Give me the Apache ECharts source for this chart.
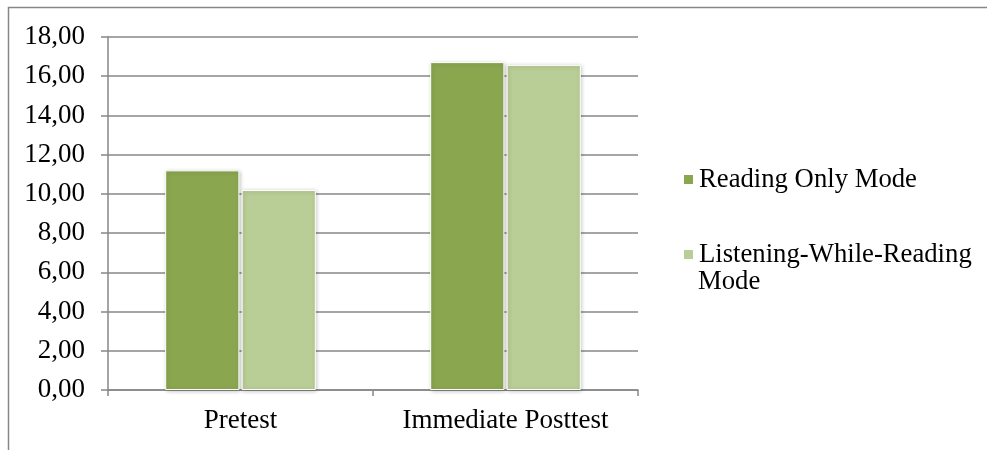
<!DOCTYPE html>
<html>
<head>
<meta charset="utf-8">
<script src="https://cdn.jsdelivr.net/npm/echarts@6/dist/echarts.min.js"></script>
<style>
  html, body { margin: 0; padding: 0; background: #fff; }
  #chart { width: 987px; height: 450px; }
</style>
</head>
<body>
<div id="chart"></div>
<script>
// Mean scores by test and reading mode
const categories = ['Pretest', 'Immediate Posttest'];
const seriesNames = ['Reading Only Mode', 'Listening-While-Reading Mode'];
const readingOnly = [11.2, 16.72];
const listeningWhileReading = [10.2, 16.58];
const yMin = 0, yMax = 18, yStep = 2;

const gray = '#878787';
const font = 'Liberation Serif';
const colors = ['#8aa64f', '#b9cd96'];
const fs = 27;
const legendFs = 26.7;

const chart = echarts.init(document.getElementById('chart'), null, { renderer: 'canvas' });

const barStyle = (c) => ({
  color: c,
  borderColor: '#ffffff',
  borderWidth: 1,
  shadowBlur: 4,
  shadowColor: 'rgba(0,0,0,0.22)',
  shadowOffsetX: 1,
  shadowOffsetY: 1
});

chart.setOption({
  animation: false,
  backgroundColor: '#ffffff',
  textStyle: { fontFamily: font, color: '#000' },
  graphic: [{
    type: 'rect',
    shape: { x: 8.5, y: 7.5, width: 1100, height: 600 },
    style: { fill: 'none', stroke: gray, lineWidth: 1.5 },
    silent: true
  }, {
    // second line of the wrapped legend label
    type: 'text',
    left: 698, top: 268,
    style: { text: 'Mode', font: legendFs + 'px "' + font + '"', fill: '#000' },
    silent: true
  }],
  grid: { left: 108, right: 349, top: 37, bottom: 60, containLabel: false },
  legend: [{
    data: [seriesNames[0]],
    left: 682, top: 166, padding: 0,
    orient: 'vertical',
    icon: 'rect', itemWidth: 11, itemHeight: 11,
    textStyle: { fontFamily: font, fontSize: legendFs, color: '#000' }
  }, {
    data: [seriesNames[1]],
    left: 682, top: 241, padding: 0,
    orient: 'vertical',
    icon: 'rect', itemWidth: 11, itemHeight: 11,
    formatter: (n) => n.replace(' Mode', ''),
    textStyle: { fontFamily: font, fontSize: legendFs, color: '#000' }
  }],
  xAxis: {
    type: 'category',
    data: categories,
    axisLine: { lineStyle: { color: gray, width: 1.5 } },
    axisTick: { show: true, length: 6, lineStyle: { color: gray, width: 1.5 } },
    axisLabel: { interval: 0, fontFamily: font, fontSize: fs, color: '#000', margin: 17 }
  },
  yAxis: {
    type: 'value',
    min: yMin, max: yMax, interval: yStep,
    axisLine: { show: true, lineStyle: { color: gray, width: 1.5 } },
    axisTick: { show: true, length: 7, lineStyle: { color: gray, width: 1.5 } },
    splitLine: { lineStyle: { color: gray, width: 1.5 } },
    axisLabel: {
      fontFamily: font, fontSize: fs, color: '#000', margin: 23,
      formatter: (v) => v.toFixed(2).replace('.', ',')
    }
  },
  series: [{
    name: seriesNames[0],
    type: 'bar',
    data: readingOnly,
    barWidth: '28%',
    barGap: '3%',
    itemStyle: barStyle(colors[0])
  }, {
    name: seriesNames[1],
    type: 'bar',
    data: listeningWhileReading,
    barWidth: '28%',
    barGap: '3%',
    itemStyle: barStyle(colors[1])
  }]
});
</script>
</body>
</html>
